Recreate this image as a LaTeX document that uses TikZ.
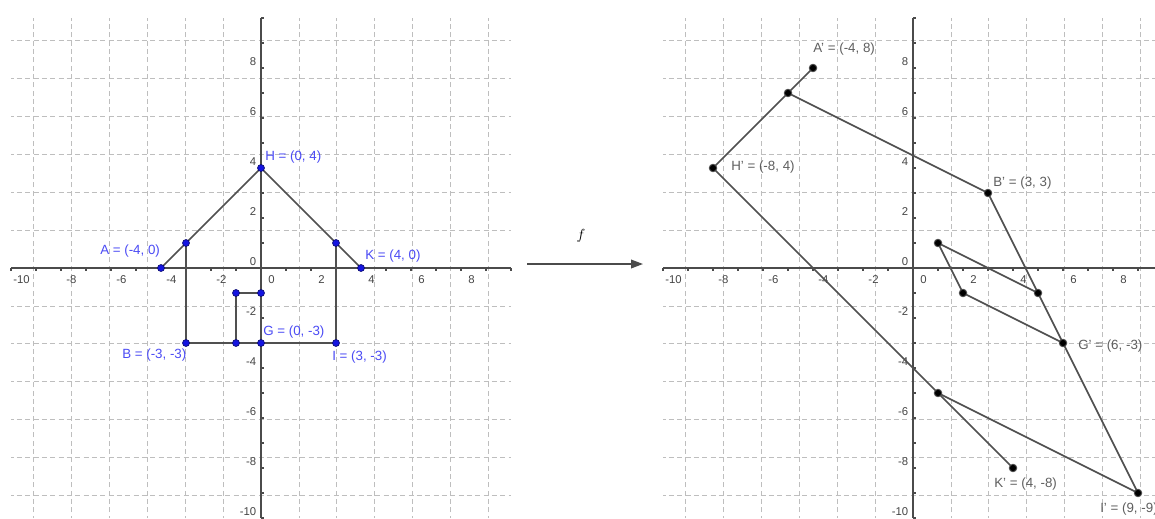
\documentclass[tikz,border=0pt]{standalone}
\usepackage{fontspec}
\setmainfont{Liberation Sans}
\usetikzlibrary{arrows.meta}
\definecolor{ptblue}{RGB}{20,20,225}
\definecolor{ptrim}{RGB}{10,10,110}
\definecolor{lblblue}{RGB}{75,75,245}
\definecolor{axisgray}{RGB}{75,75,75}
\definecolor{linegray}{RGB}{80,80,80}
\definecolor{gridgray}{RGB}{190,190,190}
\definecolor{lblgray}{RGB}{95,95,95}
\definecolor{ticktext}{RGB}{70,70,70}
\tikzset{
  gridline/.style={draw=gridgray, line width=0.6pt, dash pattern=on 3.75pt off 2.5pt, dash phase=1.875pt},
  axisline/.style={draw=axisgray, line width=1.4pt},
  tickmark/.style={draw=axisgray, line width=0.8pt},
  figline/.style={draw=linegray, line width=1.3pt, line join=round},
  ticklbl/.style={text=ticktext, font=\fontsize{8.5}{10}\selectfont, inner sep=0pt},
  bluept/.style={circle, fill=ptblue, draw=ptrim, line width=0.5pt, minimum size=5.2pt, inner sep=0pt},
  blackpt/.style={circle, fill=black, draw=black!70, line width=0.7pt, minimum size=5.6pt, inner sep=0pt},
  bluelbl/.style={text=lblblue, font=\fontsize{10}{12}\selectfont, anchor=west, inner sep=0pt},
  graylbl/.style={text=lblgray, font=\fontsize{10}{12}\selectfont, anchor=west, inner sep=0pt},
  maparrow/.style={draw=axisgray, line width=1.1pt, -{Triangle[length=9pt,width=6.5pt]}}
}
\begin{document}
\begin{tikzpicture}[x=0.75pt,y=-0.75pt]
\useasboundingbox (0,0) rectangle (1155,518);
\fill[white] (0,0) rectangle (1155,518);

% ---------- left graph ----------
\begin{scope}[shift={(261,268)}, x=18.75pt, y=18.75pt]
  \draw[gridline] (-10,-10) grid (10,10);
  \draw[axisline] (-10,0) -- (10,0);
  \draw[axisline] (0,-10) -- (0,10);
  \foreach \v in {-10,...,10} {
    \draw[tickmark] (\v,0) -- (\v,-0.12);
    \draw[tickmark] (0,\v) -- (0.12,\v);
  }
  \foreach \v in {-10,-8,...,8} {
    \node[ticklbl] at (\v+0.42,-0.48) {\v};
    \node[ticklbl, anchor=east] at (-0.18,\v+0.26) {\v};
  }
  \coordinate (A) at (-4,0);
  \coordinate (P1) at (-3,1);
  \coordinate (H) at (0,4);
  \coordinate (P2) at (3,1);
  \coordinate (K) at (4,0);
  \coordinate (B) at (-3,-3);
  \coordinate (Q1) at (-1,-3);
  \coordinate (G) at (0,-3);
  \coordinate (I) at (3,-3);
  \coordinate (Q2) at (-1,-1);
  \coordinate (Q3) at (0,-1);
  \draw[figline] (A) -- (P1) -- (H) -- (P2) -- (K);
  \draw[figline] (P1) -- (B) -- (I) -- (P2);
  \draw[figline] (Q1) -- (Q2) -- (Q3) -- (G);
  \foreach \p in {A,P1,H,P2,K,B,Q1,G,I,Q2,Q3}
    \node[bluept] (d\p) at (\p) {};
\end{scope}

% ---------- right graph ----------
\begin{scope}[shift={(913,268)}, x=18.75pt, y=18.75pt]
  \draw[gridline] (-10,-10) grid (10,10);
  \draw[axisline] (-10,0) -- (10,0);
  \draw[axisline] (0,-10) -- (0,10);
  \foreach \v in {-10,...,10} {
    \draw[tickmark] (\v,0) -- (\v,-0.12);
    \draw[tickmark] (0,\v) -- (0.12,\v);
  }
  \foreach \v in {-10,-8,...,8} {
    \node[ticklbl] at (\v+0.42,-0.48) {\v};
    \node[ticklbl, anchor=east] at (-0.18,\v+0.26) {\v};
  }
  \coordinate (Ap) at (-4,8);
  \coordinate (R1) at (-5,7);
  \coordinate (Hp) at (-8,4);
  \coordinate (R2) at (1,-5);
  \coordinate (Kp) at (4,-8);
  \coordinate (Bp) at (3,3);
  \coordinate (Ip) at (9,-9);
  \coordinate (S1) at (5,-1);
  \coordinate (Gp) at (6,-3);
  \coordinate (S2) at (1,1);
  \coordinate (S3) at (2,-1);
  \draw[figline] (Ap) -- (R1) -- (Hp) -- (R2) -- (Kp);
  \draw[figline] (R1) -- (Bp) -- (Ip) -- (R2);
  \draw[figline] (S1) -- (S2) -- (S3) -- (Gp);
  \foreach \p in {Ap,R1,Hp,R2,Kp,Bp,Ip,S1,Gp,S2,S3}
    \node[blackpt] (d\p) at (\p) {};
\end{scope}

% ---------- labels ----------
\node[bluelbl] (lH) at (265,157) {H = (0, 4)};
\node[bluelbl] (lA) at (100,251) {A = (-4, 0)};
\node[bluelbl] (lK) at (365,256) {K = (4, 0)};
\node[bluelbl] (lB) at (122,355) {B = (-3, -3)};
\node[bluelbl] (lG) at (263,332) {G = (0, -3)};
\node[bluelbl] (lI) at (332,357) {I = (3, -3)};

\node[graylbl] (lAp) at (813,49) {A' = (-4, 8)};
\node[graylbl] (lHp) at (731,167) {H' = (-8, 4)};
\node[graylbl] (lBp) at (993,183) {B' = (3, 3)};
\node[graylbl] (lGp) at (1078,346) {G' = (6, -3)};
\node[graylbl] (lKp) at (994,484) {K' = (4, -8)};
\node[graylbl] (lIp) at (1100,509) {I' = (9, -9)};

% ---------- map arrow ----------
\coordinate (fs) at (527,264);
\coordinate (fe) at (643,264);
\draw[maparrow] (fs) -- (fe);
\node[font=\fontsize{11}{13}\selectfont, inner sep=0pt] (flbl) at (581,236) {$f$};
\end{tikzpicture}
\end{document}
